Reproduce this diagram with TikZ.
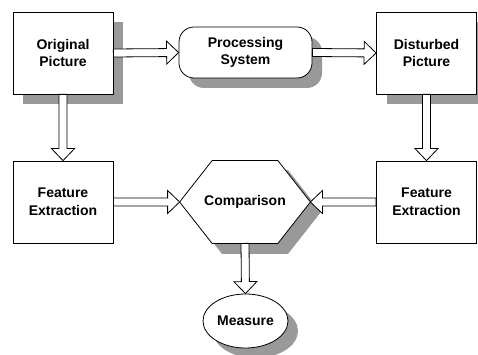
\documentclass[tikz,border=0pt]{standalone}
\usepackage{fontspec}
\setmainfont{Liberation Sans}
\usetikzlibrary{calc,shadows,shapes.geometric,backgrounds}

\tikzset{
  base/.style={draw=black, line width=0.8pt, fill=white,
    font=\fontsize{14}{17.5}\selectfont\bfseries, align=center, inner sep=0pt},
  shade/.style={drop shadow={shadow xshift=10pt, shadow yshift=-10pt,
    fill=black!40, opacity=1}},
  box/.style={base, rectangle, minimum width=100pt, minimum height=82pt},
  roundbox/.style={base, rectangle, rounded corners=15pt,
    minimum width=133pt, minimum height=51pt},
  oval/.style={base, ellipse, minimum width=85pt, minimum height=54pt},
  hexlabel/.style={base, draw=none, fill=none, rectangle,
    minimum width=130pt, minimum height=82pt},
  % hollow block arrow between two anchors
  blockarrow/.style={draw=black, fill=white, line width=0.8pt, to path={
    let \p1=(\tikztostart), \p2=(\tikztotarget),
        \n1={veclen(\x2-\x1,\y2-\y1)},
        \n2={(\x2-\x1)/\n1}, \n3={(\y2-\y1)/\n1}
    in ({\x1-4pt*(\n3)},{\y1+4pt*(\n2)})
    -- ({\x2-12pt*(\n2)-4pt*(\n3)},{\y2-12pt*(\n3)+4pt*(\n2)})
    -- ({\x2-12pt*(\n2)-11.5pt*(\n3)},{\y2-12pt*(\n3)+11.5pt*(\n2)})
    -- (\p2)
    -- ({\x2-12pt*(\n2)+11.5pt*(\n3)},{\y2-12pt*(\n3)-11.5pt*(\n2)})
    -- ({\x2-12pt*(\n2)+4pt*(\n3)},{\y2-12pt*(\n3)-4pt*(\n2)})
    -- ({\x1+4pt*(\n3)},{\y1-4pt*(\n2)})
    -- cycle}}
}

\begin{document}
\begin{tikzpicture}[x=1pt, y=-1pt]
  \useasboundingbox (0,0) rectangle (478,355);

  % top row
  \node[box, shade] (op) at (63,53) {Original\\Picture};
  \node[roundbox, shade] (ps) at (245.5,52.5) {Processing\\System};
  \node[box, shade] (dp) at (426.5,53) {Disturbed\\Picture};

  % middle row
  \node[box] (fel) at (63,202) {Feature\\Extraction};
  \node[box] (fer) at (426.5,202) {Feature\\Extraction};
  \node[hexlabel] (comp) at (245,202) {Comparison};

  % hexagon outline and its shadow behind the label
  \begin{scope}[on background layer]
    \foreach \o/\c/\d in {10/black!40/black!40, 0/white/black}
      \filldraw[fill=\c, draw=\d, line width=0.8pt]
        ($(comp.west)+(\o,\o)$)
        -- ($(comp.north west)+(32.5+\o,\o)$)
        -- ($(comp.north east)+(-32.5+\o,\o)$)
        -- ($(comp.east)+(\o,\o)$)
        -- ($(comp.south east)+(-32.5+\o,\o)$)
        -- ($(comp.south west)+(32.5+\o,\o)$)
        -- cycle;
  \end{scope}

  % result
  \node[oval, shade] (meas) at (245.5,321) {Measure};

  % connectors
  \draw[blockarrow] (op.east) to (ps.west);
  \draw[blockarrow] (ps.east) to (dp.west);
  \draw[blockarrow] (op.south) to (fel.north);
  \draw[blockarrow] (dp.south) to (fer.north);
  \draw[blockarrow] (fel.east) to (comp.west);
  \draw[blockarrow] (fer.west) to (comp.east);
  \draw[blockarrow] (comp.south) to (meas.north);
\end{tikzpicture}
\end{document}
